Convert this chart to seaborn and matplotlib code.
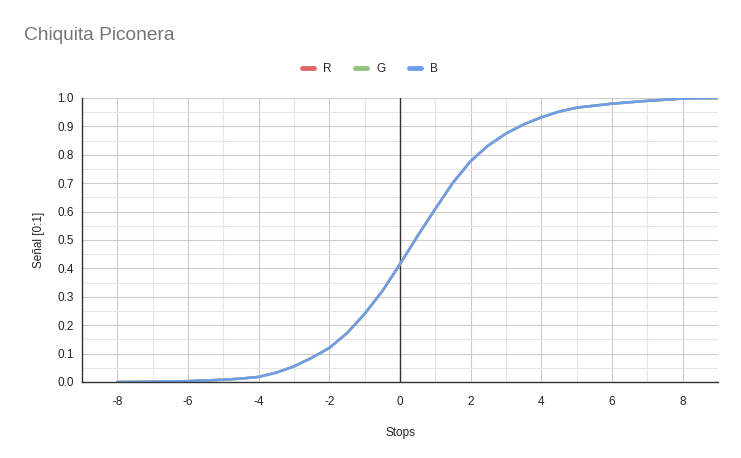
import matplotlib
matplotlib.use("Agg")
import matplotlib.pyplot as plt
import seaborn as sns
import pandas as pd
from matplotlib.ticker import MultipleLocator

stops = [-8, -7, -6, -5, -4.5, -4, -3.5, -3, -2.5, -2, -1.5, -1, -0.5, 0, 0.5, 1, 1.5, 2,
         2.5, 3, 3.5, 4, 4.5, 5, 6, 7, 8, 9]
signal = [0.0, 0.001, 0.003, 0.008, 0.012, 0.018, 0.033, 0.055, 0.085, 0.12, 0.172, 0.24,
          0.32, 0.415, 0.515, 0.61, 0.702, 0.778, 0.833, 0.875, 0.907, 0.932, 0.952, 0.966,
          0.98, 0.99, 0.998, 1.0]
channels = ["R", "G", "B"]
colors = ["#e06666", "#93c47d", "#6d9eeb"]

df = pd.concat([pd.DataFrame({"Stops": stops, "Señal": signal, "canal": c}) for c in channels],
               ignore_index=True)

sns.set_theme(style="white")
plt.rcParams["font.family"] = ["Liberation Sans", "DejaVu Sans"]

fig = plt.figure(figsize=(7.41, 4.58), dpi=100)
ax = fig.add_axes([82/741, 1-382/458, (718-82)/741, (382-98)/458])

sns.lineplot(data=df, x="Stops", y="Señal", hue="canal", palette=dict(zip(channels, colors)),
             linewidth=1.8, ax=ax, legend=False, sort=True, solid_joinstyle="round")

ax.set_xlim(-9, 9)
ax.set_ylim(0, 1)
ax.xaxis.set_major_locator(MultipleLocator(2))
ax.xaxis.set_minor_locator(MultipleLocator(1))
ax.yaxis.set_major_locator(MultipleLocator(0.1))
ax.yaxis.set_minor_locator(MultipleLocator(0.05))
ax.grid(which="major", color="#cccccc", linewidth=0.8)
ax.grid(which="minor", color="#e6e6e6", linewidth=0.8)
ax.set_axisbelow(True)
ax.axvline(0, color="#333333", linewidth=1.0, zorder=1.5)
ax.yaxis.set_major_formatter(matplotlib.ticker.FormatStrFormatter("%.1f"))
ax.set_xticks(range(-8, 9, 2))
ax.set_xticklabels([str(v) for v in range(-8, 9, 2)])

for s in ["top", "right"]:
    ax.spines[s].set_visible(False)
ax.spines["left"].set_color("#333333")
ax.spines["bottom"].set_color("#333333")
ax.spines["left"].set_linewidth(1.0)
ax.spines["bottom"].set_linewidth(1.0)
ax.tick_params(axis="both", which="both", length=0, labelsize=8.5, colors="#222222")
ax.tick_params(axis="x", pad=10)
ax.tick_params(axis="y", pad=6)

ax.set_xlabel("Stops", fontsize=8.5, color="#222222", labelpad=14)
ax.set_ylabel("Señal [0:1]", fontsize=8.5, color="#222222", labelpad=9)

fig.text(24/741, 1-35/458, "Chiquita Piconera", fontsize=13.8, color="#757575", va="center", ha="left")

handles = [plt.Line2D([], [], color=c, linewidth=3.5) for c in colors]
fig.legend(handles, channels, loc="center", bbox_to_anchor=(370/741, 1-69/458), ncol=3,
           frameon=False, fontsize=8.5, handlelength=1.0, columnspacing=2.0, handletextpad=0.8)

fig.savefig("out.png", dpi=100)
